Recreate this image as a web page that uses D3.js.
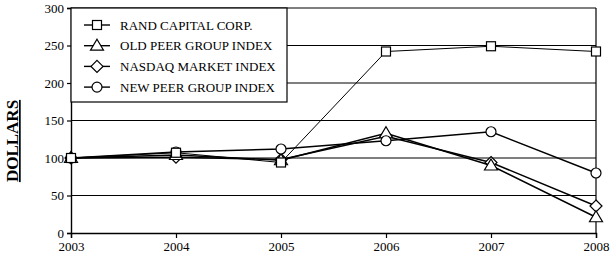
<!DOCTYPE html>
<html>
<head>
<meta charset="utf-8">
<script src="https://cdn.jsdelivr.net/npm/d3@7"></script>
<style>
  body { margin: 0; background: #fff; }
  text { font-family: "Liberation Serif", "Times New Roman", serif; fill: #000; }
</style>
</head>
<body>
<svg id="chart" width="610" height="255"></svg>
<script>
const years = [2003, 2004, 2005, 2006, 2007, 2008];
const yTicks = [0, 50, 100, 150, 200, 250, 300];

const randCapital = [100, 107, 94, 242, 249, 242];
const oldPeer = [100, 104, 97, 133, 90, 21];
const nasdaq = [100, 101, 98, 129, 94, 36];
const newPeer = [100, 108, 112, 123, 135, 80];

const seriesNames = ['RAND CAPITAL CORP.', 'OLD PEER GROUP INDEX', 'NASDAQ MARKET INDEX', 'NEW PEER GROUP INDEX'];
const seriesValues = [randCapital, oldPeer, nasdaq, newPeer];
const seriesMarkers = ['square', 'triangle', 'diamond', 'circle'];
const drawOrder = [2, 1, 3, 0];

const margin = { top: 8, right: 14, bottom: 22, left: 71 };
const width = 610;
const height = 255;

const svg = d3.select('#chart');

const x = d3.scaleLinear()
  .domain(d3.extent(years))
  .range([margin.left, width - margin.right]);

const y = d3.scaleLinear()
  .domain([0, 300])
  .range([height - margin.bottom, margin.top]);

// grid lines
svg.append('g')
  .selectAll('line')
  .data(yTicks.filter((t) => t > 0))
  .join('line')
  .attr('x1', x.range()[0])
  .attr('x2', x.range()[1])
  .attr('y1', (d) => y(d))
  .attr('y2', (d) => y(d))
  .attr('stroke', '#000')
  .attr('stroke-width', 1.2);

// right border
svg.append('line')
  .attr('x1', x.range()[1])
  .attr('x2', x.range()[1])
  .attr('y1', y(300))
  .attr('y2', y(0))
  .attr('stroke', '#000')
  .attr('stroke-width', 1.2);

const yAxis = svg.append('g')
  .attr('transform', `translate(${margin.left},0)`)
  .call(d3.axisLeft(y).tickValues(yTicks).tickSize(4).tickPadding(3));

const xAxis = svg.append('g')
  .attr('transform', `translate(0,${y(0)})`)
  .call(d3.axisBottom(x).tickValues(years).tickFormat(d3.format('d')).tickSize(5).tickPadding(4));

[yAxis, xAxis].forEach((axis) => {
  axis.select('.domain').attr('stroke-width', 1.4);
  axis.selectAll('.tick line').attr('stroke-width', 1.2);
  axis.selectAll('text')
    .style('font-family', '"Liberation Serif", serif')
    .style('font-size', '13px')
    .attr('fill', '#000');
});

// y title
svg.append('text')
  .attr('transform', 'translate(18,141) rotate(-90)')
  .attr('text-anchor', 'middle')
  .style('font-size', '17px')
  .style('font-weight', 'bold')
  .style('text-decoration', 'underline')
  .text('DOLLARS');

function drawMarker(g, type, cx, cy) {
  if (type === 'square') {
    g.append('rect')
      .attr('x', cx - 4.5).attr('y', cy - 4.5)
      .attr('width', 9).attr('height', 9);
  } else if (type === 'triangle') {
    g.append('path')
      .attr('d', `M${cx},${cy - 6.5} L${cx + 6.5},${cy + 4.5} L${cx - 6.5},${cy + 4.5} Z`);
  } else if (type === 'diamond') {
    g.append('path')
      .attr('d', `M${cx},${cy - 6} L${cx + 6},${cy} L${cx},${cy + 6} L${cx - 6},${cy} Z`);
  } else {
    g.append('circle').attr('cx', cx).attr('cy', cy).attr('r', 5);
  }
}

const line = d3.line()
  .x((d, i) => x(years[i]))
  .y((d) => y(d));

drawOrder.forEach((s) => {
  const g = svg.append('g');
  g.append('path')
    .datum(seriesValues[s])
    .attr('d', line)
    .attr('fill', 'none')
    .attr('stroke', '#000')
    .attr('stroke-width', s === 0 ? 1 : 1.4);
  const mg = g.append('g')
    .attr('fill', '#fff')
    .attr('stroke', '#000')
    .attr('stroke-width', 1.2);
  seriesValues[s].forEach((v, i) => drawMarker(mg, seriesMarkers[s], x(years[i]), y(v)));
});

// legend
const legend = svg.append('g');
legend.append('rect')
  .attr('x', margin.left)
  .attr('y', margin.top)
  .attr('width', 216)
  .attr('height', 94)
  .attr('fill', '#fff')
  .attr('stroke', '#000')
  .attr('stroke-width', 1.2);

seriesNames.forEach((name, i) => {
  const ly = 25 + i * 20.7;
  const item = legend.append('g');
  item.append('line')
    .attr('x1', 84).attr('x2', 110)
    .attr('y1', ly).attr('y2', ly)
    .attr('stroke', '#000')
    .attr('stroke-width', 1.4);
  const mg = item.append('g')
    .attr('fill', '#fff')
    .attr('stroke', '#000')
    .attr('stroke-width', 1.2);
  drawMarker(mg, seriesMarkers[i], 97, ly);
  item.append('text')
    .attr('x', 120)
    .attr('y', ly + 4.5)
    .style('font-size', '13px')
    .text(name);
});
</script>
</body>
</html>
